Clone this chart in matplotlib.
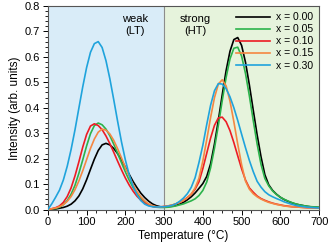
import matplotlib
matplotlib.use('Agg')
import matplotlib.pyplot as plt
from matplotlib.ticker import MultipleLocator

plt.rcParams['font.family'] = ['Liberation Sans', 'DejaVu Sans']

# temperature grid (°C), 10 degree steps
temp = list(range(0, 701, 10))

labels = ['x = 0.00', 'x = 0.05', 'x = 0.10', 'x = 0.15', 'x = 0.30']
colors = ['#000000', '#2bb34b', '#ed1c24', '#f58742', '#1fa3dc']

x000 = [0.0, 0.001, 0.002, 0.005, 0.008, 0.013, 0.021, 0.034, 0.053, 0.081,
        0.117, 0.158, 0.198, 0.232, 0.254, 0.260, 0.254, 0.240, 0.220, 0.194,
        0.166, 0.138, 0.110, 0.086, 0.064, 0.047, 0.033, 0.022, 0.015, 0.011,
        0.010, 0.011, 0.013, 0.016, 0.021, 0.028, 0.038, 0.050, 0.065, 0.083,
        0.102, 0.130, 0.180, 0.258, 0.351, 0.451, 0.546, 0.622, 0.668, 0.676,
        0.645, 0.579, 0.490, 0.391, 0.294, 0.208, 0.137, 0.097, 0.075, 0.060,
        0.048, 0.039, 0.032, 0.026, 0.021, 0.018, 0.015, 0.012, 0.010, 0.009,
        0.008]
x005 = [0.0, 0.002, 0.004, 0.009, 0.019, 0.035, 0.060, 0.095, 0.142, 0.195,
        0.250, 0.298, 0.330, 0.340, 0.333, 0.316, 0.290, 0.257, 0.221, 0.184,
        0.148, 0.115, 0.086, 0.063, 0.044, 0.030, 0.020, 0.013, 0.009, 0.008,
        0.008, 0.009, 0.011, 0.014, 0.018, 0.022, 0.028, 0.034, 0.042, 0.055,
        0.075, 0.108, 0.164, 0.241, 0.331, 0.428, 0.519, 0.592, 0.634, 0.638,
        0.603, 0.535, 0.447, 0.350, 0.258, 0.178, 0.122, 0.093, 0.073, 0.059,
        0.048, 0.040, 0.033, 0.027, 0.022, 0.018, 0.015, 0.013, 0.011, 0.010,
        0.009]
x010 = [0.0, 0.003, 0.007, 0.014, 0.028, 0.051, 0.085, 0.132, 0.187, 0.245,
        0.295, 0.328, 0.337, 0.330, 0.314, 0.289, 0.259, 0.225, 0.190, 0.156,
        0.124, 0.096, 0.072, 0.052, 0.037, 0.025, 0.017, 0.012, 0.010, 0.010,
        0.012, 0.014, 0.017, 0.022, 0.028, 0.036, 0.047, 0.060, 0.080, 0.109,
        0.161, 0.221, 0.281, 0.331, 0.360, 0.363, 0.345, 0.310, 0.263, 0.211,
        0.160, 0.116, 0.085, 0.068, 0.053, 0.043, 0.036, 0.030, 0.025, 0.021,
        0.018, 0.015, 0.013, 0.011, 0.010, 0.009, 0.008, 0.007, 0.007, 0.006,
        0.006]
x015 = [0.0, 0.003, 0.006, 0.011, 0.019, 0.032, 0.051, 0.078, 0.112, 0.152,
        0.196, 0.240, 0.277, 0.304, 0.316, 0.312, 0.297, 0.272, 0.239, 0.203,
        0.165, 0.130, 0.098, 0.071, 0.050, 0.034, 0.022, 0.015, 0.011, 0.010,
        0.012, 0.014, 0.017, 0.022, 0.028, 0.036, 0.046, 0.060, 0.085, 0.123,
        0.191, 0.274, 0.362, 0.440, 0.493, 0.510, 0.486, 0.426, 0.345, 0.257,
        0.176, 0.112, 0.080, 0.062, 0.050, 0.041, 0.034, 0.028, 0.024, 0.020,
        0.017, 0.014, 0.012, 0.011, 0.010, 0.009, 0.008, 0.007, 0.007, 0.006,
        0.006]
x030 = [0.0, 0.022, 0.048, 0.076, 0.116, 0.170, 0.236, 0.313, 0.398, 0.482,
        0.558, 0.618, 0.652, 0.660, 0.637, 0.585, 0.514, 0.432, 0.347, 0.266,
        0.195, 0.136, 0.091, 0.058, 0.035, 0.021, 0.014, 0.011, 0.010, 0.010,
        0.011, 0.013, 0.016, 0.022, 0.032, 0.045, 0.062, 0.087, 0.125, 0.185,
        0.253, 0.334, 0.410, 0.467, 0.495, 0.493, 0.475, 0.443, 0.400, 0.350,
        0.296, 0.243, 0.193, 0.149, 0.111, 0.088, 0.070, 0.058, 0.050, 0.043,
        0.037, 0.030, 0.025, 0.020, 0.016, 0.013, 0.011, 0.009, 0.008, 0.007,
        0.006]
series = [x000, x005, x010, x015, x030]

fig = plt.figure(figsize=(3.3, 2.5), dpi=100)
ax = fig.add_axes([0.145, 0.162, 0.822, 0.814])

# shaded LT / HT regions
ax.axvspan(0, 300, color='#d9ecf8', zorder=0)
ax.axvspan(300, 700, color='#e6f3dc', zorder=0)
ax.axvline(300, color='#8c8c8c', lw=0.8, zorder=1)

for y, c, lab in zip(series, colors, labels):
    ax.plot(temp, y, color=c, lw=1.2, label=lab, zorder=3, solid_joinstyle='round')

ax.set_xlim(0, 700)
ax.set_ylim(0, 0.8)
ax.xaxis.set_major_locator(MultipleLocator(100))
ax.xaxis.set_minor_locator(MultipleLocator(25))
ax.yaxis.set_major_locator(MultipleLocator(0.1))
ax.yaxis.set_minor_locator(MultipleLocator(0.02))
ax.yaxis.set_major_formatter(matplotlib.ticker.FormatStrFormatter('%.1f'))
ax.tick_params(which='major', direction='out', length=3.5, width=0.7, labelsize=8, pad=2)
ax.tick_params(which='minor', direction='out', length=2, width=0.6)
for sp in ax.spines.values():
    sp.set_color('#555555')
    sp.set_linewidth(0.8)

ax.set_xlabel('Temperature (°C)', fontsize=8.5, labelpad=2)
ax.set_ylabel('Intensity (arb. units)', fontsize=8.5, labelpad=3)

ax.text(225, 0.725, 'weak\n(LT)', ha='center', va='center', fontsize=8, linespacing=1.2)
ax.text(380, 0.725, 'strong\n(HT)', ha='center', va='center', fontsize=8, linespacing=1.2)

ax.legend(loc='upper right', frameon=False, fontsize=7.5, handlelength=3.3,
          handletextpad=0.5, labelspacing=0.2, borderaxespad=0.2)

fig.savefig('out.png', dpi=100)
